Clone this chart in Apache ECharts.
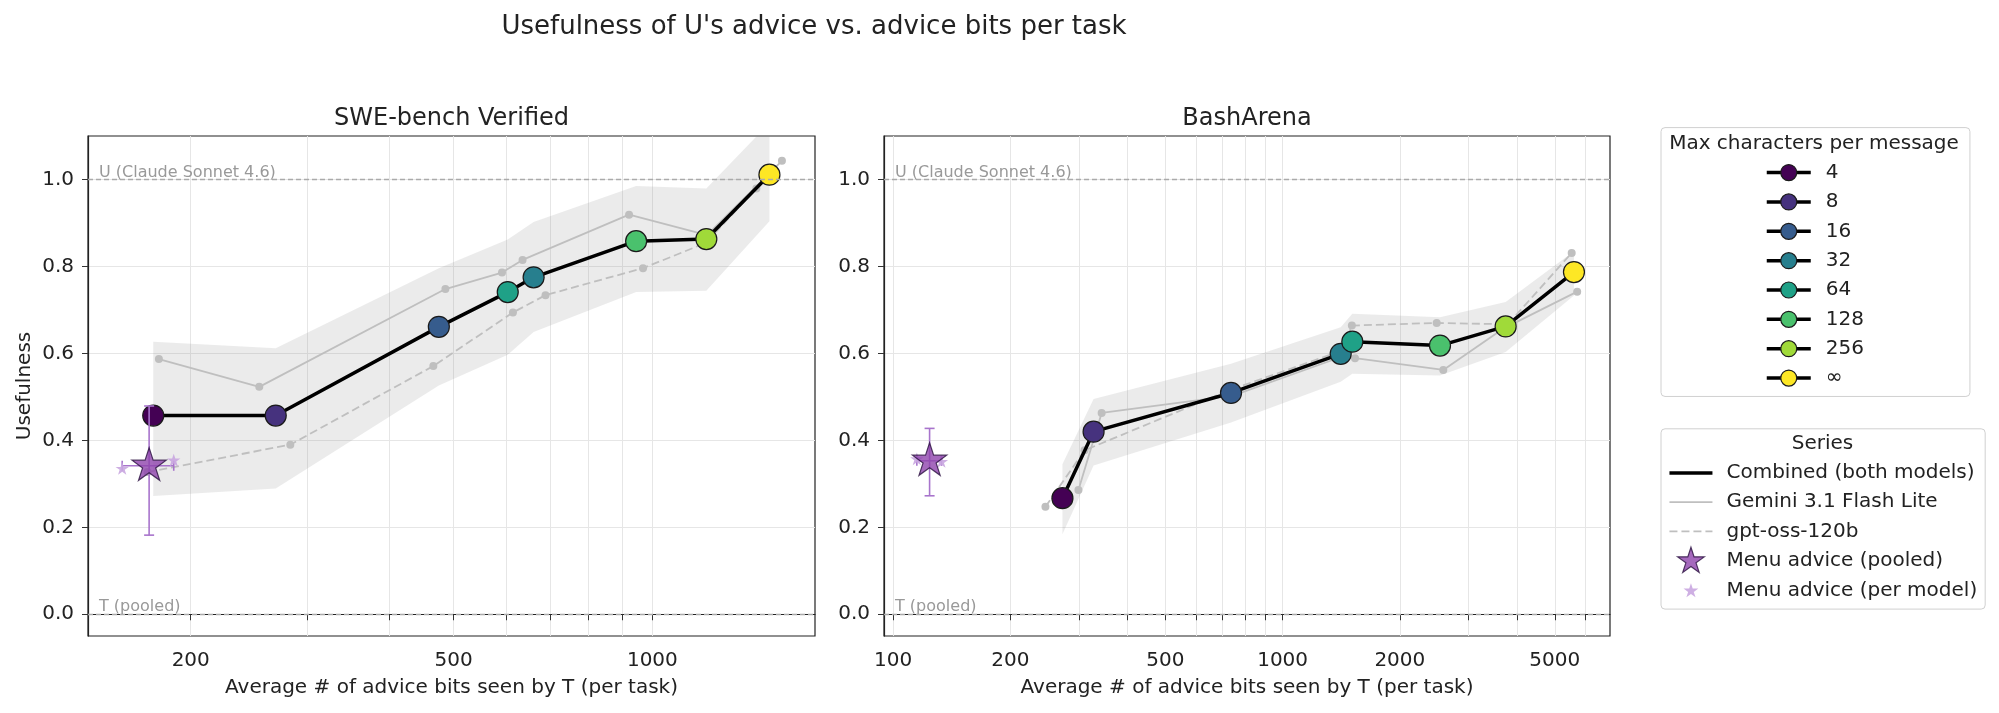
<!DOCTYPE html>
<html>
<head>
    <meta charset="utf-8">
    <title>Usefulness of U's advice vs. advice bits per task</title>
    <style>
        html, body {
            margin: 0;
            padding: 0;
            background-color: #fff;
        }

        #chart {
            width: 1999px;
            height: 713px;
        }
    </style>
</head>
<body>
<div id="chart"></div>
<script src="https://cdn.jsdelivr.net/npm/echarts@6.0.0/dist/echarts.min.js"></script>
<script>
    // max characters per message, one colour each (viridis)
    var charLimits = ['4', '8', '16', '32', '64', '128', '256', '∞'];
    var limitColors = ['#440154', '#46327e', '#365c8d', '#277f8e', '#1fa187', '#4ac16d', '#a0da39', '#fde725'];

    // SWE-bench Verified, values in the order of charLimits
    var sweCombX = [175.5, 269, 475, 661, 604, 945, 1207, 1504];
    var sweCombY = [0.457, 0.457, 0.661, 0.775, 0.741, 0.858, 0.863, 1.011];
    var sweBandLo = [0.272, 0.289, 0.526, 0.649, 0.597, 0.741, 0.744, 0.904];
    var sweBandHi = [0.627, 0.612, 0.796, 0.902, 0.862, 0.985, 0.979, 1.13];
    var sweGemX = [179, 254, 486, 636, 592, 922, 1210, 1571];
    var sweGemY = [0.587, 0.523, 0.748, 0.815, 0.786, 0.919, 0.872, 1.043];
    var sweGptX = [172, 283, 466, 689, 615, 968, 1204, 1437];
    var sweGptY = [0.327, 0.390, 0.571, 0.734, 0.694, 0.796, 0.854, 0.979];
    var sweMenuPooled = [173, 0.3415];
    var sweMenuErrY = [0.182, 0.479];
    var sweMenuModelX = [157.5, 188.5];
    var sweMenuModelY = [0.334, 0.353];

    // BashArena
    var bashCombX = [272, 327, 737, 1410, 1510, 2536, 3739, 5600];
    var bashCombY = [0.267, 0.420, 0.509, 0.599, 0.627, 0.618, 0.662, 0.787];
    var bashBandLo = [0.184, 0.342, 0.441, 0.535, 0.553, 0.549, 0.603, 0.733];
    var bashBandHi = [0.345, 0.495, 0.576, 0.660, 0.691, 0.683, 0.718, 0.835];
    var bashGemX = [299, 343, 745, 1395, 1534, 2586, 3690, 5708];
    var bashGemY = [0.286, 0.463, 0.503, 0.590, 0.589, 0.562, 0.657, 0.742];
    var bashGptX = [246, 310, 729, 1425, 1506, 2487, 3790, 5525];
    var bashGptY = [0.247, 0.377, 0.515, 0.607, 0.664, 0.670, 0.667, 0.831];
    var bashMenuPooled = [124, 0.353];
    var bashMenuErrY = [0.2725, 0.4275];
    var bashMenuModelX = [115, 133];
    var bashMenuModelY = [0.356, 0.350];

    // axes
    var sweXRange = [139.8, 1763];
    var bashXRange = [94.7, 6930];
    var sweXTicks = [200, 300, 400, 500, 600, 700, 800, 900, 1000];
    var sweXLabels = [200, 500, 1000];
    var bashXTicks = [100, 200, 300, 400, 500, 600, 700, 800, 900, 1000, 2000, 3000, 4000, 5000, 6000];
    var bashXLabels = [100, 200, 500, 1000, 2000, 5000];
    var yRange = [-0.05, 1.1];
    var yTicks = [0, 0.2, 0.4, 0.6, 0.8, 1.0];

    var FONT = "'DejaVu Sans', sans-serif";
    var TEXT = '#222';
    var MODEL_GRAY = '#bfbfbf';
    var ERR_COLOR = '#a874cc';

    // 5-point star, bounding box padded to +-pad so it sits centred
    function starPath(pad) {
        var pts = [];
        for (var i = 0; i < 10; i++) {
            var r = i % 2 === 0 ? 1 : 0.382;
            var a = Math.PI / 2 + i * Math.PI / 5;
            pts.push((r * Math.cos(a)).toFixed(4) + ',' + (-r * Math.sin(a)).toFixed(4));
        }
        return 'path://M' + (-pad) + ',' + (-pad) + 'M' + pad + ',' + pad + 'M' + pts.join('L') + 'Z';
    }

    function zipSorted(xs, ys) {
        var pts = xs.map(function (x, i) { return [x, ys[i]]; });
        pts.sort(function (a, b) { return a[0] - b[0]; });
        return pts;
    }

    function makePanel(idx, d) {
        var list = [];
        var order = d.combX.map(function (x, i) { return i; });
        order.sort(function (a, b) { return d.combX[a] - d.combX[b]; });

        // shaded band round the combined line
        list.push({
            type: 'custom',
            xAxisIndex: idx,
            yAxisIndex: idx,
            z: 1,
            silent: true,
            clip: true,
            data: [[d.combX[order[0]], d.bandLo[order[0]]]],
            renderItem: function (params, api) {
                var pts = [];
                order.forEach(function (k) {
                    pts.push(api.coord([d.combX[k], d.bandHi[k]]));
                });
                order.slice().reverse().forEach(function (k) {
                    pts.push(api.coord([d.combX[k], d.bandLo[k]]));
                });
                return {
                    type: 'polygon',
                    shape: { points: pts },
                    style: { fill: 'rgba(128,128,128,0.16)' }
                };
            }
        });

        list.push({
            name: 'Gemini 3.1 Flash Lite',
            type: 'line',
            xAxisIndex: idx,
            yAxisIndex: idx,
            z: 2,
            data: zipSorted(d.gemX, d.gemY),
            symbol: 'circle',
            symbolSize: 8,
            lineStyle: { color: MODEL_GRAY, width: 1.8 },
            itemStyle: { color: MODEL_GRAY }
        });

        list.push({
            name: 'gpt-oss-120b',
            type: 'line',
            xAxisIndex: idx,
            yAxisIndex: idx,
            z: 2,
            data: zipSorted(d.gptX, d.gptY),
            symbol: 'circle',
            symbolSize: 8,
            lineStyle: { color: MODEL_GRAY, width: 1.8, type: [8, 4] },
            itemStyle: { color: MODEL_GRAY }
        });

        list.push({
            name: 'Combined (both models)',
            type: 'line',
            xAxisIndex: idx,
            yAxisIndex: idx,
            z: 3,
            data: zipSorted(d.combX, d.combY),
            symbol: 'none',
            lineStyle: { color: '#000', width: 3.5 },
            itemStyle: { color: '#000' },
            markLine: {
                silent: true,
                symbol: ['none', 'none'],
                lineStyle: { color: '#aaa', width: 1.3, type: [5, 3] },
                label: {
                    show: true,
                    position: 'insideStartTop',
                    color: '#999',
                    fontSize: 16,
                    fontFamily: FONT,
                    distance: [11, -1]
                },
                data: [
                    { yAxis: 1, label: { formatter: 'U (Claude Sonnet 4.6)' } },
                    { yAxis: 0, label: { formatter: 'T (pooled)' } }
                ]
            }
        });

        // one marker series per character limit
        charLimits.forEach(function (name, k) {
            list.push({
                name: name,
                type: 'line',
                xAxisIndex: idx,
                yAxisIndex: idx,
                z: 4,
                data: [[d.combX[k], d.combY[k]]],
                symbol: 'circle',
                symbolSize: 21,
                lineStyle: { color: '#000', width: 3.5 },
                itemStyle: { color: limitColors[k], borderColor: '#1a1a1a', borderWidth: 1.2 }
            });
        });

        // error bars of the pooled menu advice
        list.push({
            type: 'custom',
            xAxisIndex: idx,
            yAxisIndex: idx,
            z: 5,
            silent: true,
            data: [[d.menu[0], d.menu[1], d.errY[0], d.errY[1], d.modelX[0], d.modelX[1]]],
            renderItem: function (params, api) {
                var x = api.value(0);
                var y = api.value(1);
                var top = api.coord([x, api.value(3)]);
                var bot = api.coord([x, api.value(2)]);
                var lft = api.coord([api.value(4), y]);
                var rgt = api.coord([api.value(5), y]);
                var cap = 5;
                var st = { stroke: ERR_COLOR, lineWidth: 1.6 };
                return {
                    type: 'group',
                    children: [
                        { type: 'line', shape: { x1: top[0], y1: top[1], x2: bot[0], y2: bot[1] }, style: st },
                        { type: 'line', shape: { x1: top[0] - cap, y1: top[1], x2: top[0] + cap, y2: top[1] }, style: st },
                        { type: 'line', shape: { x1: bot[0] - cap, y1: bot[1], x2: bot[0] + cap, y2: bot[1] }, style: st },
                        { type: 'line', shape: { x1: lft[0], y1: lft[1], x2: rgt[0], y2: rgt[1] }, style: st },
                        { type: 'line', shape: { x1: lft[0], y1: lft[1] - cap, x2: lft[0], y2: lft[1] + cap }, style: st },
                        { type: 'line', shape: { x1: rgt[0], y1: rgt[1] - cap, x2: rgt[0], y2: rgt[1] + cap }, style: st }
                    ]
                };
            }
        });

        list.push({
            name: 'Menu advice (per model)',
            type: 'scatter',
            xAxisIndex: idx,
            yAxisIndex: idx,
            z: 5,
            data: zipSorted(d.modelX, d.modelY),
            symbol: starPath(1),
            symbolKeepAspect: true,
            symbolSize: 14,
            itemStyle: { color: '#c9a6e0', opacity: 0.9 }
        });

        list.push({
            name: 'Menu advice (pooled)',
            type: 'scatter',
            xAxisIndex: idx,
            yAxisIndex: idx,
            z: 6,
            data: [d.menu],
            symbol: starPath(1),
            symbolKeepAspect: true,
            symbolSize: 36,
            itemStyle: { color: '#8e44ad', borderColor: '#2b1040', borderWidth: 1.2 }
        });

        return list;
    }

    function xAxisFor(idx, range, ticks, labels) {
        return {
            type: 'log',
            logBase: 10,
            gridIndex: idx,
            min: range[0],
            max: range[1],
            name: 'Average # of advice bits seen by T (per task)',
            nameLocation: 'middle',
            nameGap: 42,
            nameTextStyle: { fontSize: 20, color: TEXT, fontFamily: FONT },
            axisLine: { show: true, lineStyle: { color: '#222', width: 1.2 } },
            axisTick: { show: true, customValues: ticks, length: 6, lineStyle: { color: '#333' } },
            axisLabel: {
                customValues: labels,
                fontSize: 20,
                color: TEXT,
                fontFamily: FONT,
                margin: 15,
                formatter: function (v) { return String(Math.round(v)); }
            },
            splitLine: { show: true, lineStyle: { color: '#e6e6e6', width: 1 } }
        };
    }

    function yAxisFor(idx, name) {
        return {
            type: 'value',
            gridIndex: idx,
            min: yRange[0],
            max: yRange[1],
            name: name,
            nameLocation: 'middle',
            nameGap: 53,
            nameTextStyle: { fontSize: 20, color: TEXT, fontFamily: FONT },
            axisLine: { show: true, lineStyle: { color: '#222', width: 1.2 } },
            axisTick: { show: true, customValues: yTicks, length: 6, lineStyle: { color: '#333' } },
            axisLabel: {
                customValues: yTicks,
                fontSize: 20,
                color: TEXT,
                fontFamily: FONT,
                margin: 14,
                formatter: function (v) { return v.toFixed(1); }
            },
            splitLine: { show: true, lineStyle: { color: '#e6e6e6', width: 1 } }
        };
    }

    var sweSeries = makePanel(0, {
        combX: sweCombX, combY: sweCombY, bandLo: sweBandLo, bandHi: sweBandHi,
        gemX: sweGemX, gemY: sweGemY, gptX: sweGptX, gptY: sweGptY,
        menu: sweMenuPooled, errY: sweMenuErrY, modelX: sweMenuModelX, modelY: sweMenuModelY
    });
    var bashSeries = makePanel(1, {
        combX: bashCombX, combY: bashCombY, bandLo: bashBandLo, bandHi: bashBandHi,
        gemX: bashGemX, gemY: bashGemY, gptX: bashGptX, gptY: bashGptY,
        menu: bashMenuPooled, errY: bashMenuErrY, modelX: bashMenuModelX, modelY: bashMenuModelY
    });

    var legendBox = {
        orient: 'vertical',
        selectedMode: false,
        backgroundColor: '#fff',
        borderColor: '#d0d0d0',
        borderWidth: 1,
        borderRadius: 4,
        lineStyle: { width: 'inherit' },
        itemStyle: { borderWidth: 'inherit' }
    };

    var option = {
        animation: false,
        backgroundColor: '#fff',
        textStyle: { fontFamily: FONT },
        title: [
            {
                text: "Usefulness of U's advice vs. advice bits per task",
                left: 814, top: 14, textAlign: 'center', padding: 0,
                textStyle: { fontSize: 26, fontWeight: 'normal', color: TEXT, fontFamily: FONT }
            },
            {
                text: 'SWE-bench Verified',
                left: 451.5, top: 107, textAlign: 'center', padding: 0,
                textStyle: { fontSize: 24, fontWeight: 'normal', color: TEXT, fontFamily: FONT }
            },
            {
                text: 'BashArena',
                left: 1247, top: 107, textAlign: 'center', padding: 0,
                textStyle: { fontSize: 24, fontWeight: 'normal', color: TEXT, fontFamily: FONT }
            }
        ],
        grid: [
            { left: 88, top: 136, width: 727, height: 500, show: true, borderColor: '#222', borderWidth: 1.2 },
            { left: 884, top: 136, width: 726, height: 500, show: true, borderColor: '#222', borderWidth: 1.2 }
        ],
        xAxis: [
            xAxisFor(0, sweXRange, sweXTicks, sweXLabels),
            xAxisFor(1, bashXRange, bashXTicks, bashXLabels)
        ],
        yAxis: [
            yAxisFor(0, 'Usefulness'),
            yAxisFor(1, '')
        ],
        legend: [
            echarts.util.merge({
                left: 1661,
                top: 127.6,
                padding: [35, 106, 8.4, 104],
                itemWidth: 44,
                itemHeight: 20,
                itemGap: 9.35,
                textStyle: { fontSize: 20, lineHeight: 20, color: TEXT, fontFamily: FONT, padding: [0, 0, 0, 10] },
                data: charLimits
            }, legendBox),
            echarts.util.merge({
                left: 1661,
                top: 428.8,
                padding: [30.2, 8, 4.1, 6.7],
                itemWidth: 43,
                itemHeight: 28,
                itemGap: 1.2,
                textStyle: { fontSize: 20, lineHeight: 28, color: TEXT, fontFamily: FONT, padding: [0, 0, 0, 9] },
                data: [
                    { name: 'Combined (both models)', itemStyle: { opacity: 0 } },
                    { name: 'Gemini 3.1 Flash Lite', itemStyle: { opacity: 0 } },
                    { name: 'gpt-oss-120b', itemStyle: { opacity: 0 } },
                    { name: 'Menu advice (pooled)', icon: starPath(1) },
                    { name: 'Menu advice (per model)', icon: starPath(1.8) }
                ]
            }, legendBox)
        ],
        graphic: [
            {
                type: 'text', x: 1814, y: 144, z: 100,
                style: { text: 'Max characters per message', fontSize: 20, fontFamily: FONT, fill: TEXT, align: 'center', verticalAlign: 'middle' }
            },
            {
                type: 'text', x: 1822.5, y: 443.3, z: 100,
                style: { text: 'Series', fontSize: 20, fontFamily: FONT, fill: TEXT, align: 'center', verticalAlign: 'middle' }
            }
        ],
        series: sweSeries.concat(bashSeries)
    };

    var myChart = echarts.init(document.getElementById('chart'));
    myChart.setOption(option);
</script>
</body>
</html>
